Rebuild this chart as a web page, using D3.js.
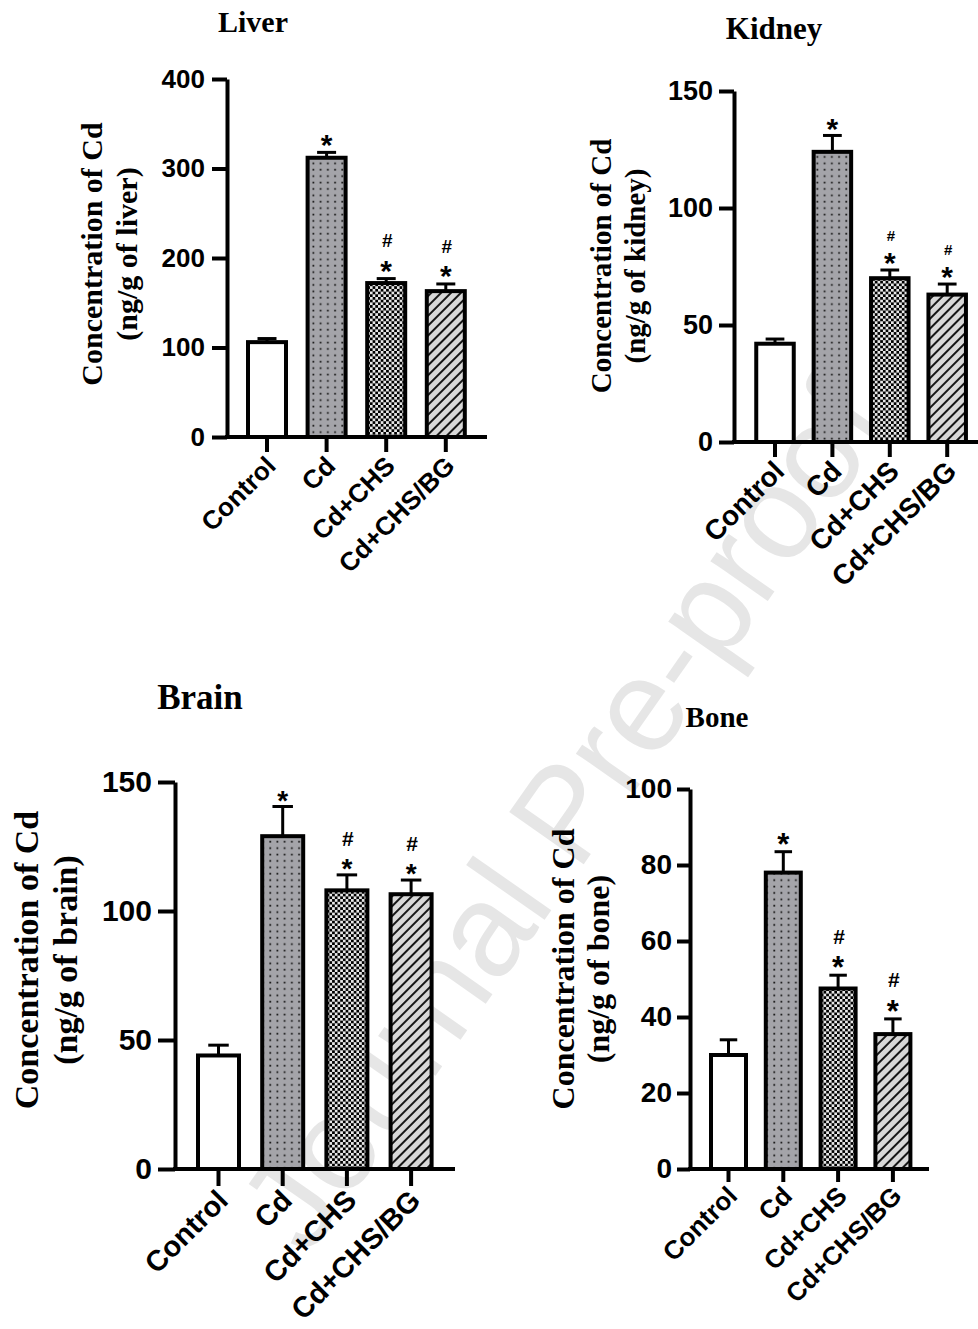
<!DOCTYPE html>
<html><head><meta charset="utf-8">
<script src="https://cdn.jsdelivr.net/npm/d3@7"></script>
<style>body{margin:0;background:#fff}svg{display:block}</style>
</head><body>
<svg id="c" width="978" height="1329"></svg>
<script>
// ---------- data ----------
const groups = ["Control", "Cd", "Cd+CHS", "Cd+CHS/BG"];
const liverMean  = [106, 312, 172, 163];
const liverSem   = [4, 6, 5, 8];
const kidneyMean = [42, 124, 70, 63];
const kidneySem  = [2, 7, 3.5, 4.5];
const brainMean  = [44, 129, 108, 106.5];
const brainSem   = [4, 11.5, 6, 5.5];
const boneMean   = [30, 78, 47.5, 35.5];
const boneSem    = [4, 5.5, 3.5, 4];
const liverTicks  = [0, 100, 200, 300, 400];
const kidneyTicks = [0, 50, 100, 150];
const brainTicks  = [0, 50, 100, 150];
const boneTicks   = [0, 20, 40, 60, 80, 100];
const starFlags = [false, true, true, true];   // * vs control
const hashFlags = [false, false, true, true];  // # vs Cd
const titles = ["Liver", "Kidney", "Brain", "Bone"];
const yLabel1 = "Concentration of Cd";
const yLabel2 = ["(ng/g of liver)", "(ng/g of kidney)", "(ng/g of brain)", "(ng/g of bone)"];
const watermark = "Journal Pre-proof";

// ---------- layout / style ----------
const layouts = [
  {axisX:227, axisEnd:487, yTop:79, yBase:437, c0:267, step:59.6, bw:38, tk:15, pad:7,
   tX:253, tY:32, tFs:30, l1X:102, l2X:137, lCY:254, lFs:30, tickFs:26, xFs:26,
   sFs:30, hFs:19, sOff:15, hOff:38},
  {axisX:734, axisEnd:995, yTop:91, yBase:442, c0:775, step:57.4, bw:37.5, tk:15, pad:6,
   tX:774, tY:39, tFs:31, l1X:611, l2X:645, lCY:266, lFs:29, tickFs:27, xFs:28,
   sFs:30, hFs:15, sOff:14, hOff:34},
  {axisX:175, axisEnd:455, yTop:782, yBase:1169, c0:218.5, step:64.2, bw:41, tk:17, pad:6,
   tX:200, tY:709, tFs:35, l1X:38, l2X:77, lCY:960, lFs:34, tickFs:30, xFs:29,
   sFs:28, hFs:21, sOff:13, hOff:36},
  {axisX:690, axisEnd:929, yTop:789, yBase:1169, c0:728.5, step:54.8, bw:35, tk:13, pad:5,
   tX:717, tY:727, tFs:29, l1X:574, l2X:609, lCY:969, lFs:32, tickFs:28, xFs:26,
   sFs:31, hFs:21, sOff:15, hOff:39}
];
const means = [liverMean, kidneyMean, brainMean, boneMean];
const sems = [liverSem, kidneySem, brainSem, boneSem];
const ticks = [liverTicks, kidneyTicks, brainTicks, boneTicks];
const fills = ["#ffffff", "url(#dots)", "url(#check)", "url(#diag)"];
const SANS = "'Liberation Sans', Arial, sans-serif";
const SERIF = "'Liberation Serif', 'Times New Roman', serif";

const svg = d3.select("#c");
svg.append("rect").attr("width", 978).attr("height", 1329).attr("fill", "#fff");

// patterns
const defs = svg.append("defs");
const pd = defs.append("pattern").attr("id", "dots").attr("patternUnits", "userSpaceOnUse")
  .attr("width", 7.2).attr("height", 6.4);
pd.append("rect").attr("width", 7.2).attr("height", 6.4).attr("fill", "#a4a4a9");
pd.append("rect").attr("x", 3).attr("y", 2.5).attr("width", 1.7).attr("height", 1.7).attr("fill", "#111");
const pc = defs.append("pattern").attr("id", "check").attr("patternUnits", "userSpaceOnUse")
  .attr("width", 5.4).attr("height", 5.4);
pc.append("rect").attr("width", 5.4).attr("height", 5.4).attr("fill", "#e8e8e8");
pc.append("rect").attr("width", 2.7).attr("height", 2.7).attr("fill", "#000");
pc.append("rect").attr("x", 2.7).attr("y", 2.7).attr("width", 2.7).attr("height", 2.7).attr("fill", "#000");
const pg = defs.append("pattern").attr("id", "diag").attr("patternUnits", "userSpaceOnUse")
  .attr("width", 7).attr("height", 7).attr("patternTransform", "rotate(45)");
pg.append("rect").attr("width", 7).attr("height", 7).attr("fill", "#d8d8d8");
pg.append("line").attr("x1", 1).attr("x2", 1).attr("y1", 0).attr("y2", 7)
  .attr("stroke", "#000").attr("stroke-width", 1.8);

// watermark (behind)
svg.append("text")
  .attr("transform", "translate(572,820) rotate(-55)")
  .attr("text-anchor", "middle").attr("dominant-baseline", "middle")
  .attr("font-family", SANS).attr("font-size", 132)
  .attr("fill", "#e6e6e6").text(watermark);

layouts.forEach((L, i) => {
  const g = svg.append("g");
  const mean = means[i], sem = sems[i], tv = ticks[i];
  const y = d3.scaleLinear().domain([0, d3.max(tv)]).range([L.yBase, L.yTop]);
  const pi = 1 - L.bw / L.step;
  const x = d3.scaleBand().domain(groups)
    .range([L.c0 - L.step / 2, L.c0 + 3.5 * L.step])
    .paddingInner(pi).paddingOuter(pi / 2);

  // title
  g.append("text").attr("x", L.tX).attr("y", L.tY).attr("text-anchor", "middle")
    .attr("font-family", SERIF).attr("font-weight", "bold").attr("font-size", L.tFs)
    .text(titles[i]);

  // y label (two lines)
  [[yLabel1, L.l1X], [yLabel2[i], L.l2X]].forEach(([t, xx]) => {
    g.append("text").attr("transform", `translate(${xx},${L.lCY}) rotate(-90)`)
      .attr("text-anchor", "middle").attr("font-family", SERIF)
      .attr("font-weight", "bold").attr("font-size", L.lFs).text(t);
  });

  // error bars
  const eb = g.append("g");
  groups.forEach((k, j) => {
    const cx = x(k) + x.bandwidth() / 2;
    const top = y(mean[j] + sem[j]);
    eb.append("line").attr("x1", cx).attr("x2", cx).attr("y1", y(mean[j])).attr("y2", top)
      .attr("stroke", "#000").attr("stroke-width", 3);
    eb.append("line").attr("x1", cx - x.bandwidth() * 0.25).attr("x2", cx + x.bandwidth() * 0.25)
      .attr("y1", top).attr("y2", top).attr("stroke", "#000").attr("stroke-width", 3);
  });

  // bars
  g.selectAll("rect.bar").data(groups).join("rect").attr("class", "bar")
    .attr("x", d => x(d)).attr("width", x.bandwidth())
    .attr("y", (d, j) => y(mean[j])).attr("height", (d, j) => L.yBase - y(mean[j]))
    .attr("fill", (d, j) => fills[j]).attr("stroke", "#000").attr("stroke-width", 4);

  // significance marks
  groups.forEach((k, j) => {
    const cx = x(k) + x.bandwidth() / 2;
    const top = y(mean[j] + sem[j]);
    if (starFlags[j]) {
      g.append("text").attr("x", cx).attr("y", top - L.sOff + 0.575 * L.sFs)
        .attr("text-anchor", "middle").attr("font-family", SANS).attr("font-weight", "bold")
        .attr("font-size", L.sFs).text("*");
    }
    if (hashFlags[j]) {
      g.append("text").attr("x", cx + 1).attr("y", top - L.hOff + 0.355 * L.hFs)
        .attr("text-anchor", "middle").attr("font-family", SANS).attr("font-weight", "bold")
        .attr("font-size", L.hFs).text("#");
    }
  });

  // y axis
  const ya = g.append("g").attr("transform", `translate(${L.axisX},0)`)
    .call(d3.axisLeft(y).tickValues(tv).tickSize(L.tk).tickSizeOuter(0).tickPadding(L.pad).tickFormat(d3.format("d")));
  ya.select(".domain").attr("stroke-width", 4).attr("stroke", "#000");
  ya.selectAll(".tick line").attr("stroke-width", 4).attr("stroke", "#000");
  ya.selectAll(".tick text").attr("font-family", SANS).attr("font-weight", "bold")
    .attr("font-size", L.tickFs).attr("fill", "#000");

  // x axis
  const xa = g.append("g").attr("transform", `translate(0,${L.yBase})`)
    .call(d3.axisBottom(x).tickSize(L.tk).tickSizeOuter(0).tickFormat(() => ""));
  xa.select(".domain").remove();
  xa.selectAll(".tick line").attr("stroke-width", 4).attr("stroke", "#000");
  g.append("line").attr("x1", L.axisX - 2).attr("x2", L.axisEnd)
    .attr("y1", L.yBase).attr("y2", L.yBase).attr("stroke", "#000").attr("stroke-width", 4);
  groups.forEach(k => {
    const cx = x(k) + x.bandwidth() / 2;
    g.append("text").attr("transform", `translate(${cx + 4},${L.yBase + L.tk + 9}) rotate(-45)`)
      .attr("text-anchor", "end").attr("dy", "0.35em")
      .attr("font-family", SANS).attr("font-weight", "bold").attr("font-size", L.xFs)
      .text(k);
  });
});
</script>
</body></html>
